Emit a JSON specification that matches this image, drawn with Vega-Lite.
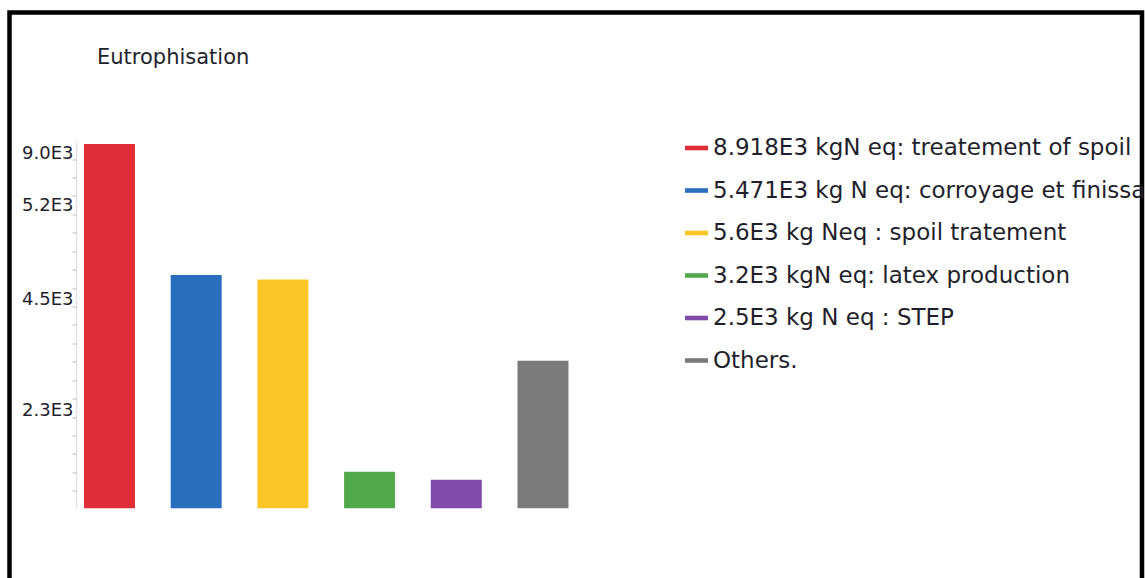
{
  "$schema": "https://vega.github.io/schema/vega-lite/v6.json",
  "width": 1132.5,
  "height": 570,
  "autosize": {"type": "none"},
  "padding": {"left": 9.5, "top": 12.5, "right": 3, "bottom": -5},
  "background": "white",
  "config": {
    "view": {"stroke": "#000000", "strokeWidth": 4.5},
    "font": "DejaVu Sans"
  },
  "title": {
    "text": "Eutrophisation",
    "anchor": "start",
    "frame": "group",
    "orient": "top",
    "offset": 0,
    "dx": 87.5,
    "dy": 72,
    "baseline": "alphabetic",
    "font": "DejaVu Sans",
    "fontSize": 21,
    "fontWeight": "normal",
    "color": "#1f1f2b"
  },
  "data": {
    "values": [
      {"source": "8.918E3 kgN eq: treatement of spoil", "value": 8918},
      {"source": "5.471E3 kg N eq: corroyage et finissage", "value": 5710},
      {"source": "5.6E3 kg Neq : spoil tratement", "value": 5600},
      {"source": "3.2E3 kgN eq: latex production", "value": 896},
      {"source": "2.5E3 kg N eq : STEP", "value": 700},
      {"source": "Others.", "value": 3613}
    ]
  },
  "layer": [
    {
      "mark": {"type": "bar"},
      "encoding": {
        "x": {
          "field": "source",
          "type": "nominal",
          "sort": null,
          "scale": {"range": [57.2, 640.5], "paddingInner": 0.412, "paddingOuter": 0.57, "align": 0.175},
          "axis": {
            "orient": "bottom",
            "offset": -74.2,
            "title": null,
            "labels": false,
            "ticks": false,
            "domainColor": "#dcdcdc",
            "domainWidth": 2
          }
        },
        "y": {
          "field": "value",
          "type": "quantitative",
          "scale": {"domain": [0, 9000], "range": [495.8, 128.15], "nice": false, "zero": true},
          "axis": {
            "orient": "left",
            "offset": -66.5,
            "title": null,
            "values": [8690, 7418, 5100, 2406],
            "labelExpr": "datum.value > 8000 ? '9.0E3' : datum.value > 7000 ? '5.2E3' : datum.value > 5000 ? '4.5E3' : '2.3E3'",
            "ticks": false,
            "grid": false,
            "labelPadding": 3,
            "labelFont": "DejaVu Sans",
            "labelFontSize": 18,
            "labelColor": "#1f1f2b",
            "domainColor": "#e4e4e4",
            "domainWidth": 1.5
          }
        },
        "color": {
          "field": "source",
          "type": "nominal",
          "sort": null,
          "scale": {
            "domain": [
              "8.918E3 kgN eq: treatement of spoil",
              "5.471E3 kg N eq: corroyage et finissage",
              "5.6E3 kg Neq : spoil tratement",
              "3.2E3 kgN eq: latex production",
              "2.5E3 kg N eq : STEP",
              "Others."
            ],
            "range": ["#e12d38", "#2a6ebe", "#fbc626", "#52a84c", "#7f4aa9", "#7a7a7a"]
          },
          "legend": {
            "orient": "none",
            "legendX": 675.5,
            "legendY": 124,
            "title": null,
            "padding": 0,
            "symbolType": "M-1,-0.2H1V0.2H-1Z",
            "symbolSize": 529,
            "symbolStrokeWidth": 0,
            "symbolOpacity": 1,
            "labelOffset": 5,
            "labelLimit": 800,
            "labelFont": "DejaVu Sans",
            "labelFontSize": 23,
            "labelColor": "#1f1f2b",
            "rowPadding": 18.5
          }
        }
      }
    },
    {
      "mark": {"type": "bar", "opacity": 0},
      "encoding": {
        "x": {"field": "source", "type": "nominal", "sort": null, "axis": null},
        "y": {
          "field": "value",
          "type": "quantitative",
          "axis": {
            "orient": "left",
            "offset": -66.5,
            "title": null,
            "values": [430, 881, 1332, 1783, 2234, 2685, 3136, 3587, 4038, 4489, 4940, 5391, 5842, 6293, 6744, 7195, 7646, 8097, 8548],
            "labels": false,
            "domain": false,
            "grid": false,
            "ticks": true,
            "tickSize": 4,
            "tickWidth": 1.5,
            "tickColor": "#d2d2d2"
          }
        }
      }
    }
  ],
  "resolve": {"axis": {"y": "independent"}}
}
